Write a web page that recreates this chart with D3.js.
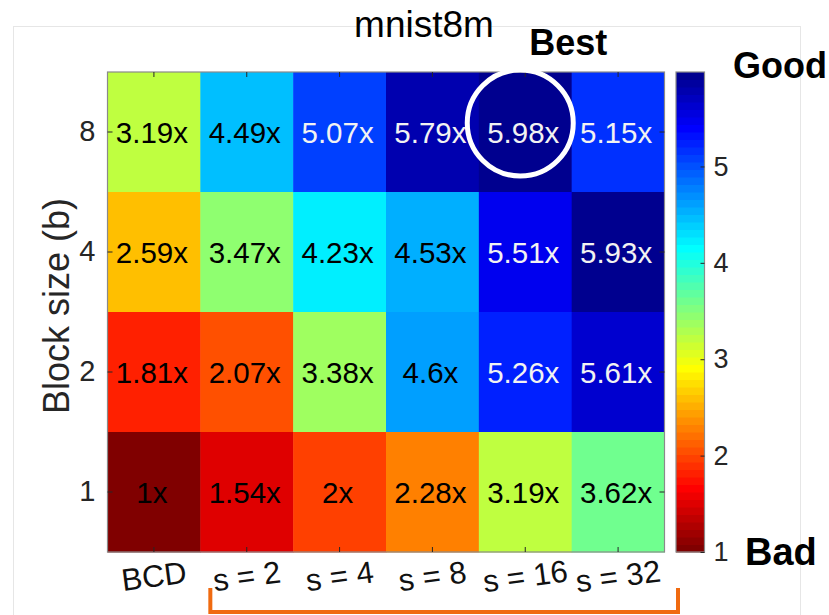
<!DOCTYPE html>
<html>
<head>
<meta charset="utf-8">
<script src="https://cdn.jsdelivr.net/npm/d3@7"></script>
<style>
  html, body { margin: 0; padding: 0; background: #fff; }
  svg { display: block; font-family: "Liberation Sans", Arial, Helvetica, sans-serif; }
</style>
</head>
<body>
<svg id="chart" width="829" height="615"></svg>
<script>
// Speedup of each variant relative to BCD, per block size
const methods = ["BCD", "s = 2", "s = 4", "s = 8", "s = 16", "s = 32"];
const blockSizes = ["8", "4", "2", "1"];
const speedupB8 = [3.19, 4.49, 5.07, 5.79, 5.98, 5.15];
const speedupB4 = [2.59, 3.47, 4.23, 4.53, 5.51, 5.93];
const speedupB2 = [1.81, 2.07, 3.38, 4.6, 5.26, 5.61];
const speedupB1 = [1, 1.54, 2, 2.28, 3.19, 3.62];
const colorbarTicks = [1, 2, 3, 4, 5];
const bestMethod = "s = 16";
const bestBlock = "8";

const rows = [speedupB8, speedupB4, speedupB2, speedupB1];
const cells = [];
blockSizes.forEach((b, i) => {
  methods.forEach((m, j) => cells.push({ block: b, method: m, value: rows[i][j] }));
});

// 64-entry jet colormap, reversed so low speedups are dark red
function jet64() {
  const n = 16;
  const u = [];
  for (let j = 1; j <= n; j++) u.push(j / n);
  for (let j = 0; j < n - 1; j++) u.push(1);
  for (let j = n; j >= 1; j--) u.push(j / n);
  const at = j => (j >= 1 && j <= u.length ? u[j - 1] : 0);
  const out = [];
  for (let k = 1; k <= 64; k++) {
    const r = k >= 25 ? at(k - 24) : 0;
    const g = k >= 9 ? at(k - 8) : 0;
    const b = at(k + 8);
    out.push(d3.rgb(r * 255, g * 255, b * 255).formatHex());
  }
  return out;
}
const palette = jet64().reverse();

const svg = d3.select("#chart");
const plotL = 107.5, plotT = 72, plotR = 664.5, plotB = 552;
const font = "\"Liberation Sans\", Arial, Helvetica, sans-serif";
const tickInk = "#262626";

// frame around the figure
svg.append("rect")
  .attr("x", 13.5).attr("y", 26.5).attr("width", 787).attr("height", 620)
  .attr("fill", "none").attr("stroke", "#e6e6e6");

const x = d3.scaleBand().domain(methods).range([plotL, plotR]);
const y = d3.scaleBand().domain(blockSizes).range([plotT, plotB]);
const extent = d3.extent(cells, d => d.value);
const color = d3.scaleQuantize().domain(extent).range(palette);

// heatmap cells
svg.append("g").selectAll("rect").data(cells).join("rect")
  .attr("x", d => x(d.method))
  .attr("y", d => y(d.block))
  .attr("width", x.bandwidth() + 0.5)
  .attr("height", y.bandwidth() + 0.5)
  .attr("fill", d => color(d.value));

// value labels
svg.append("g").selectAll("text").data(cells).join("text")
  .attr("x", d => x(d.method) + x.bandwidth() / 2 - 2)
  .attr("y", d => y(d.block) + y.bandwidth() / 2 + 10.5)
  .attr("text-anchor", "middle")
  .attr("font-size", 29.5)
  .attr("fill", d => d.value > 5 ? "#f2f2f2" : "#000")
  .text(d => d.value + "x");

// plot border
svg.append("rect")
  .attr("x", plotL).attr("y", plotT).attr("width", plotR - plotL).attr("height", plotB - plotT)
  .attr("fill", "none").attr("stroke", "#8a8a8a").attr("stroke-width", 1.2);

function styleAxis(g) {
  g.select(".domain").remove();
  g.selectAll(".tick line").attr("stroke", tickInk).attr("stroke-width", 1);
  g.selectAll(".tick text").attr("fill", tickInk).attr("font-family", font);
}

// inward ticks on all four sides
svg.append("g").attr("transform", `translate(0,${plotT})`)
  .call(d3.axisTop(x).tickSize(-5).tickFormat(""))
  .call(styleAxis);
svg.append("g").attr("transform", `translate(${plotR},0)`)
  .call(d3.axisRight(y).tickSize(-5).tickFormat(""))
  .call(styleAxis);
svg.append("g").attr("transform", `translate(${plotL},0)`)
  .call(d3.axisLeft(y).tickSize(-5).tickPadding(12))
  .call(styleAxis)
  .call(g => g.selectAll(".tick text").attr("font-size", 29));
svg.append("g").attr("transform", `translate(0,${plotB})`)
  .call(d3.axisBottom(x).tickSize(-5))
  .call(styleAxis)
  .call(g => g.selectAll(".tick text")
    .attr("font-size", 31)
    .attr("fill", "#111")
    .attr("y", 0).attr("dy", "0.35em")
    .attr("transform", "translate(0,24) rotate(-7.5)"));

// axis title
svg.append("text")
  .attr("transform", `translate(56,${(plotT + plotB) / 2 - 6}) rotate(-90)`)
  .attr("text-anchor", "middle")
  .attr("dy", "0.35em")
  .attr("font-size", 36)
  .attr("fill", tickInk)
  .text("Block size (b)");

// chart title
svg.append("text")
  .attr("x", 424).attr("y", 37)
  .attr("text-anchor", "middle")
  .attr("font-size", 37)
  .attr("fill", "#000")
  .text("mnist8m");

// colorbar
const cbLeft = 676, cbRight = 704.5;
const cb = d3.scaleLinear().domain(extent).range([plotB, plotT]);
const bandStep = (extent[1] - extent[0]) / palette.length;
svg.append("g").selectAll("rect").data(palette).join("rect")
  .attr("x", cbLeft)
  .attr("y", (c, i) => cb(extent[0] + (i + 1) * bandStep))
  .attr("width", cbRight - cbLeft)
  .attr("height", (c, i) => cb(extent[0] + i * bandStep) - cb(extent[0] + (i + 1) * bandStep) + 0.5)
  .attr("fill", c => c);
svg.append("rect")
  .attr("x", cbLeft).attr("y", plotT).attr("width", cbRight - cbLeft).attr("height", plotB - plotT)
  .attr("fill", "none").attr("stroke", "#8a8a8a").attr("stroke-width", 1.2);
svg.append("g").attr("transform", `translate(${cbRight},0)`)
  .call(d3.axisRight(cb).tickValues(colorbarTicks).tickSize(-4).tickPadding(9).tickFormat(d3.format("d")))
  .call(styleAxis)
  .call(g => g.selectAll(".tick text").attr("font-size", 27));

// colorbar end labels
svg.append("text").attr("x", 733).attr("y", 78)
  .attr("font-size", 36).attr("font-weight", "bold").attr("fill", "#000").text("Good");
svg.append("text").attr("x", 745).attr("y", 565)
  .attr("font-size", 38).attr("font-weight", "bold").attr("fill", "#000").text("Bad");

// highlight of the fastest configuration
const bx = x(bestMethod) + x.bandwidth() / 2 - 5;
const by = y(bestBlock) + y.bandwidth() / 2 - 9;
svg.append("circle")
  .attr("cx", bx).attr("cy", by).attr("r", 53)
  .attr("fill", "none").attr("stroke", "#fff").attr("stroke-width", 5);
svg.append("text").attr("x", bx + 48).attr("y", 55)
  .attr("text-anchor", "middle")
  .attr("font-size", 36).attr("font-weight", "bold").attr("fill", "#000").text("Best");

// bracket grouping the s-step variants
const bl = x("s = 2") + 10, br = x("s = 32") + x.bandwidth() + 13.5;
svg.append("path")
  .attr("d", `M${bl},588 L${bl},612 L${br},612 L${br},588`)
  .attr("fill", "none").attr("stroke", "#f06a10").attr("stroke-width", 4);
</script>
</body>
</html>
